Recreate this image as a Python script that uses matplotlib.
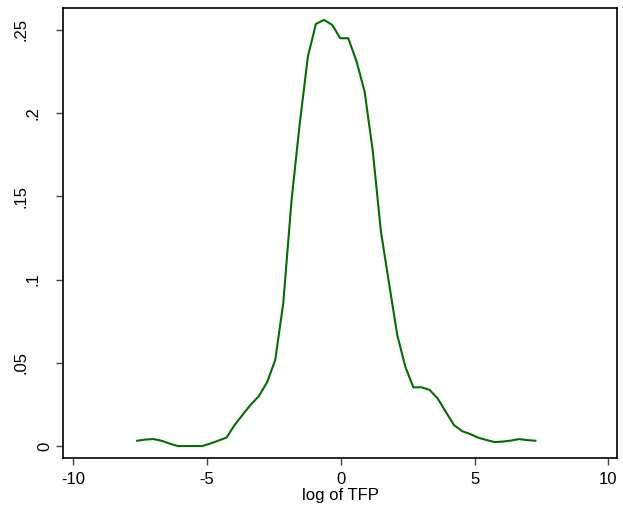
import matplotlib.pyplot as plt
from matplotlib.transforms import ScaledTranslation

''' kernel density of log TFP '''

# evaluation points
log_tfp = [-7.61, -7.31, -7.00, -6.70, -6.40, -6.09, -5.79, -5.48, -5.18, -4.88,
           -4.57, -4.27, -3.97, -3.66, -3.36, -3.06, -2.75, -2.45, -2.15, -1.84,
           -1.54, -1.23, -0.93, -0.63, -0.32, -0.02, 0.28, 0.59, 0.89, 1.19,
           1.50, 1.80, 2.11, 2.41, 2.71, 3.02, 3.32, 3.62, 3.93, 4.23,
           4.53, 4.84, 5.14, 5.45, 5.75, 6.05, 6.36, 6.66, 6.96, 7.27]
density = [0.0032, 0.0039, 0.0042, 0.0032, 0.0015, 0.0, 0.0, 0.0, 0.0, 0.0015,
           0.0033, 0.0051, 0.0126, 0.0190, 0.0250, 0.0300, 0.0385, 0.0517, 0.0859, 0.1478,
           0.1929, 0.2340, 0.2536, 0.2560, 0.2530, 0.2450, 0.2450, 0.2310, 0.2129, 0.1779,
           0.1288, 0.0980, 0.0667, 0.0477, 0.0353, 0.0353, 0.0337, 0.0286, 0.0204, 0.0126,
           0.0090, 0.0072, 0.0050, 0.0036, 0.0024, 0.0027, 0.0033, 0.0042, 0.0036, 0.0032]

x_ticks = [-10, -5, 0, 5, 10]
y_ticks = [0, 0.05, 0.10, 0.15, 0.20, 0.25]
y_tick_labels = ['0', '.05', '.1', '.15', '.2', '.25']

plt.rcParams['font.family'] = ['Liberation Sans', 'DejaVu Sans']

fig = plt.figure(figsize=(6.23, 5.14), dpi=100)
ax = fig.add_axes([0.1016, 0.1095, 0.8883, 0.8744])

ax.plot(log_tfp, density, color='#006e00', lw=1.5)

ax.set_xlim(-10.37, 10.31)
ax.set_ylim(-0.007, 0.263)

ax.set_xticks(x_ticks)
ax.set_xticklabels([str(t) for t in x_ticks], fontsize=12)
ax.set_yticks(y_ticks)
ax.set_yticklabels(y_tick_labels, fontsize=12, rotation=90,
                   ha='center', va='center')
ax.tick_params(axis='both', direction='out', length=5, width=1, color='#444444')
ax.tick_params(axis='x', pad=5)
ax.tick_params(axis='y', pad=8)

# stata shifts longer y labels further left
for lab in ax.get_yticklabels():
    n = len(lab.get_text())
    lab.set_transform(lab.get_transform() +
                      ScaledTranslation(-(n - 1) * 0.12, 0, fig.dpi_scale_trans))

for sp in ax.spines.values():
    sp.set_linewidth(1.2)
    sp.set_color('black')

ax.set_xlabel('log of TFP', fontsize=12, labelpad=1)

plt.savefig('out.png', dpi=100)
